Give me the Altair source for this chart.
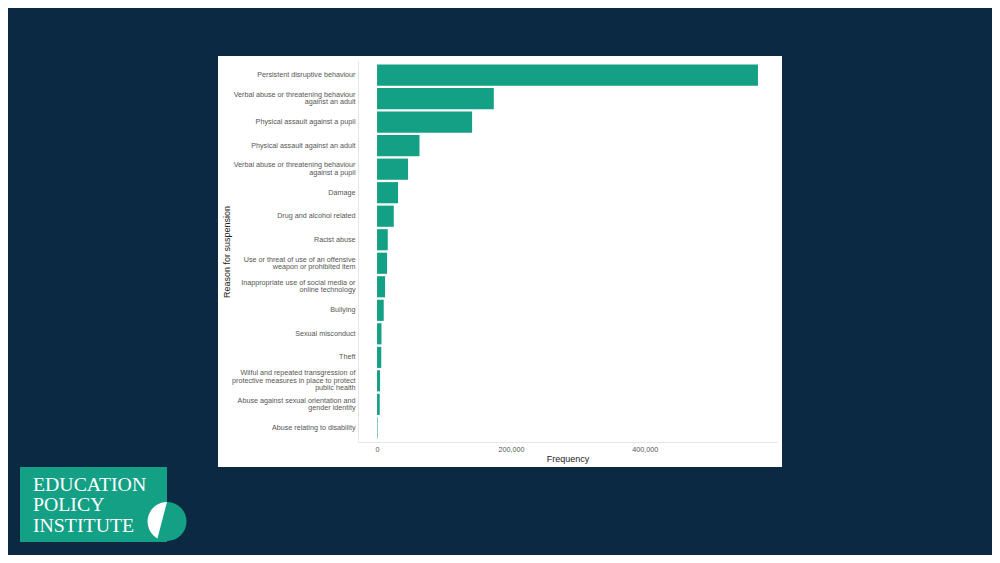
import altair as alt
import pandas as pd

reasons = [
    "Persistent disruptive behaviour",
    "Verbal abuse or threatening behaviour|against an adult",
    "Physical assault against a pupil",
    "Physical assault against an adult",
    "Verbal abuse or threatening behaviour|against a pupil",
    "Damage",
    "Drug and alcohol related",
    "Racist abuse",
    "Use or threat of use of an offensive|weapon or prohibited item",
    "Inappropriate use of social media or|online technology",
    "Bullying",
    "Sexual misconduct",
    "Theft",
    "Wilful and repeated transgression of|protective measures in place to protect|public health",
    "Abuse against sexual orientation and|gender identity",
    "Abuse relating to disability",
]
frequency = [569000, 174400, 142000, 63400, 46300, 31400, 25000, 16000,
             15000, 12000, 10000, 6600, 6300, 4500, 4000, 800]
x_ticks = [0, 200000, 400000]
logo_lines = ["EDUCATION", "POLICY", "INSTITUTE"]

TEAL = "#14a085"
NAVY = "#0b2942"
FONT = "Liberation Sans"
LH = 7.4

df = pd.DataFrame({"reason": reasons, "frequency": frequency})
one = alt.Data(values=[{"k": 1}])

xmax = max(frequency)
xdomain = [-0.05 * xmax, 1.05 * xmax]

panel = alt.Chart(one).mark_rect(color="white").encode(
    x=alt.value(-140), x2=alt.value(424), y=alt.value(-5), y2=alt.value(406)
)

label_offset = {
    "condition": [
        {"test": "length(split(datum.value, '|')) == 3", "value": -LH},
        {"test": "length(split(datum.value, '|')) == 2", "value": -LH / 2},
    ],
    "value": 0,
}

bars = alt.Chart(df).mark_bar(color=TEAL).encode(
    x=alt.X(
        "frequency:Q",
        scale=alt.Scale(domain=xdomain, nice=False, zero=False),
        axis=alt.Axis(
            values=x_ticks, labelExpr="format(datum.value, ',')",
            title="Frequency", grid=False,
            ticks=False, tickSize=0, domainColor="#e6e6e6", domainWidth=1,
            labelColor="#555555", labelFontSize=7.2, labelFont=FONT,
            labelPadding=3, titleFont=FONT, titleFontSize=9,
            titleFontWeight="normal", titleColor="#222222", titlePadding=2,
            zindex=1,
        ),
    ),
    y=alt.Y(
        "reason:N",
        sort=reasons,
        scale=alt.Scale(paddingInner=0.1, paddingOuter=0.15),
        axis=alt.Axis(
            title="Reason for suspension", grid=False, ticks=False, tickSize=0,
            domainColor="#e6e6e6", domainWidth=1,
            labelExpr="split(datum.value, '|')", labelLineHeight=LH,
            labelOffset=label_offset,
            labelColor="#555555", labelFontSize=7.2, labelFont=FONT,
            labelPadding=3, labelLimit=300, labelOverlap=False,
            titleFont=FONT, titleFontSize=9, titleFontWeight="normal",
            titleColor="#222222", titleX=-132, titleBaseline="middle",
            zindex=1,
        ),
    ),
)

logo_rect = alt.Chart(one).mark_rect(color=TEAL).encode(
    x=alt.value(-338), x2=alt.value(-191), y=alt.value(406), y2=alt.value(481)
)
logo_circle = alt.Chart(one).mark_point(
    shape="circle", filled=True, color=TEAL, opacity=1, size=1521, strokeWidth=0
).encode(x=alt.value(-191), y=alt.value(460.5))
logo_seg = alt.Chart(one).mark_point(
    shape="M0,-1A1,1,0,0,0,-0.49,0.87Z", filled=True, color="white",
    opacity=1, size=1521, strokeWidth=0
).encode(x=alt.value(-191), y=alt.value(460.5))
logo_text = alt.Chart(one).mark_text(
    text=logo_lines, font="Liberation Serif", fontSize=19.8, color="white",
    align="left", baseline="alphabetic", lineHeight=20.5
).encode(x=alt.value(-325), y=alt.value(429.5))

chart = alt.layer(panel, bars, logo_rect, logo_circle, logo_seg, logo_text).properties(
    width=419,
    height=381,
    autosize="none",
    padding={"left": 350, "top": 53, "right": 215, "bottom": 113},
    background=NAVY,
).configure_view(strokeWidth=0)

chart.save("out.html", embed_options={"renderer": "svg", "actions": False})
